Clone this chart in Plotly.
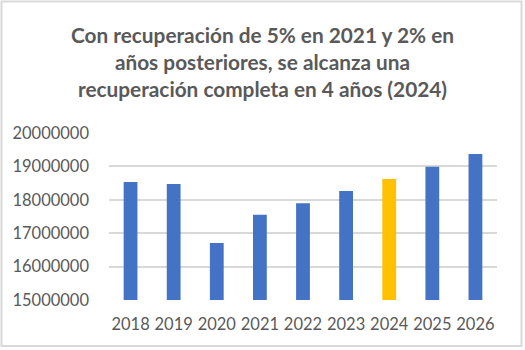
import plotly.graph_objects as go

years = ["2018", "2019", "2020", "2021", "2022", "2023", "2024", "2025", "2026"]
values = [18530000, 18470000, 16710000, 17550000, 17900000, 18260000, 18620000, 18990000, 19370000]
highlight_year = "2024"
title_lines = ["Con recuperación de 5% en 2021 y 2% en",
               "años posteriores, se alcanza una",
               "recuperación completa en 4 años (2024)"]
y_ticks = [15000000, 16000000, 17000000, 18000000, 19000000, 20000000]

blue = "#4472C4"
gold = "#FFC000"
colors = [gold if y == highlight_year else blue for y in years]

fig = go.Figure(go.Bar(x=years, y=values, marker=dict(color=colors, line=dict(width=0)),
                       hoverinfo="x+y"))

L, R, T, B = 109, 28, 133, 50
W, H = 525, 350
pw, ph = W - L - R, H - T - B

fig.update_layout(
    width=W, height=H,
    margin=dict(l=L, r=R, t=T, b=B, pad=0),
    paper_bgcolor="white", plot_bgcolor="white",
    bargap=0.68,
    showlegend=False,
    font=dict(family="Lato, Carlito, Calibri, sans-serif", color="#595959", size=16.5),
    title=dict(text="<br>".join(title_lines), x=0.5, xref="container", xanchor="center",
               y=1 - 43 / H, yref="container", yanchor="top",
               font=dict(family="Lato, Carlito, Calibri, sans-serif", size=20.8, color="#595959",
                         weight="bold")),
    xaxis=dict(type="category", showgrid=False, showline=False, ticks="",
               tickfont=dict(size=16.5, color="#595959"), ticklabelstandoff=12),
    yaxis=dict(range=[15000000, 20000000], tickvals=y_ticks,
               ticktext=[str(v) for v in y_ticks],
               showgrid=True, gridcolor="#D9D9D9", gridwidth=1.5,
               zeroline=False, showline=False, ticks="", ticklen=0,
               tickfont=dict(size=16.5, color="#595959"), ticklabelstandoff=19),
    shapes=[dict(type="rect", xref="paper", yref="paper",
                 x0=-(L - 1.5) / pw, x1=1 + (R - 3.5) / pw,
                 y0=-(B - 4) / ph, y1=1 + (T - 1.5) / ph,
                 line=dict(color="#D9D9D9", width=2), layer="above")],
)

fig.write_html("out.html")
